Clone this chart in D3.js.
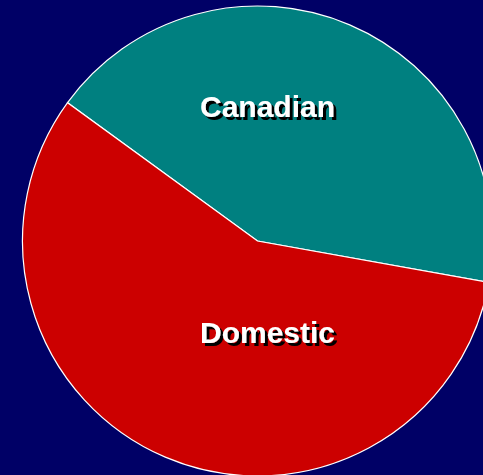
<!DOCTYPE html>
<html lang="en">
<head>
    <meta charset="UTF-8">
    <title>Canadian vs Domestic</title>
    <script src="https://cdn.jsdelivr.net/npm/d3@7"></script>
    <style>
        html, body { margin: 0; padding: 0; background: #000066; overflow: hidden; }
    </style>
</head>
<body>
<script>
    // Data
    var categories = ['Canadian', 'Domestic'];
    var shares = [42.8, 57.2];
    var colors = ['#008080', '#CC0000'];

    var width = 483, height = 475;
    var cx = 257.5, cy = 241, radius = 235;

    var svg = d3.select('body').append('svg')
        .attr('width', width).attr('height', height);

    // hard drop shadow for the labels
    var shadow = svg.append('defs').append('filter')
        .attr('id', 'shadow')
        .attr('x', '-10%').attr('y', '-20%')
        .attr('width', '130%').attr('height', '150%');
    shadow.append('feDropShadow')
        .attr('dx', 3).attr('dy', 3)
        .attr('stdDeviation', 0)
        .attr('flood-color', '#000000')
        .attr('flood-opacity', 1);

    svg.append('rect').attr('width', width).attr('height', height).attr('fill', '#000066');

    var g = svg.append('g').attr('transform', 'translate(' + cx + ',' + cy + ')');

    var start = -53.94 * Math.PI / 180;
    var pie = d3.pie().sort(null).startAngle(start).endAngle(start + 2 * Math.PI);
    var arc = d3.arc().innerRadius(0).outerRadius(radius);

    g.selectAll('path.slice')
        .data(pie(shares))
        .enter().append('path')
        .attr('class', 'slice')
        .attr('d', arc)
        .attr('fill', function (d, i) { return colors[i]; })
        .attr('stroke', '#ffffff')
        .attr('stroke-width', 1.2);

    // Labels (fixed positions)
    var labelY = [-124, 102];
    g.selectAll('text.label')
        .data(categories)
        .enter().append('text')
        .attr('class', 'label')
        .attr('x', 10)
        .attr('y', function (d, i) { return labelY[i]; })
        .attr('text-anchor', 'middle')
        .attr('filter', 'url(#shadow)')
        .style('font', 'bold 30px "Liberation Sans", Arial, sans-serif')
        .attr('fill', '#ffffff')
        .text(function (d) { return d; });
</script>
</body>
</html>
